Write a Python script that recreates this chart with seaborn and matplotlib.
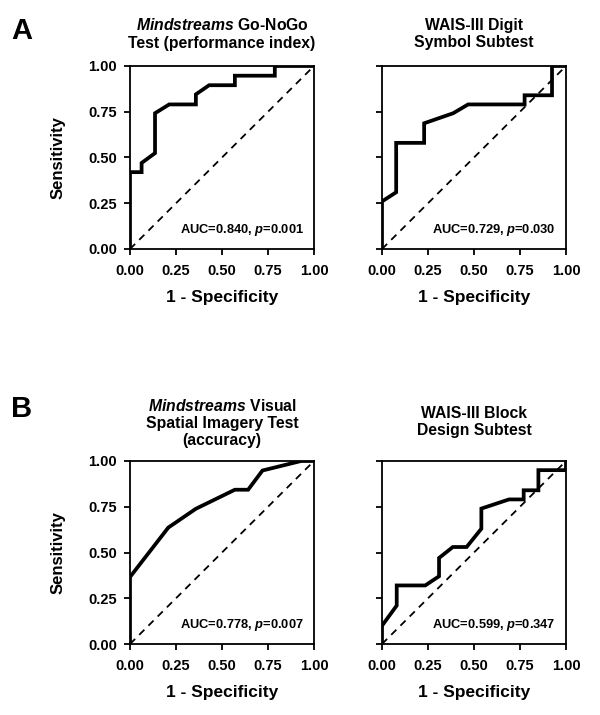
import matplotlib
matplotlib.use("Agg")
import matplotlib.pyplot as plt
import seaborn as sns
import pandas as pd

sns.set_style("white")
plt.rcParams['font.family'] = ['Liberation Sans', 'DejaVu Sans']
plt.rcParams['font.weight'] = 'bold'
plt.rcParams['text.color'] = 'black'
plt.rcParams['axes.labelcolor'] = 'black'
plt.rcParams['xtick.color'] = 'black'
plt.rcParams['ytick.color'] = 'black'
plt.rcParams['mathtext.fontset'] = 'custom'
plt.rcParams['mathtext.it'] = 'Liberation Sans:italic:bold'
plt.rcParams['mathtext.rm'] = 'Liberation Sans:bold'

# Panel A left: Mindstreams Go-NoGo
gonogo_fpr = [0.0, 0.0, 0.063, 0.063, 0.136, 0.136, 0.213, 0.358, 0.358, 0.43, 0.57, 0.57, 0.787, 0.787, 1.0]
gonogo_tpr = [0.0, 0.42, 0.42, 0.47, 0.524, 0.742, 0.79, 0.79, 0.845, 0.895, 0.895, 0.947, 0.947, 1.0, 1.0]
# Panel A right: WAIS-III Digit Symbol
digit_fpr = [0.0, 0.0, 0.077, 0.077, 0.229, 0.229, 0.387, 0.468, 0.775, 0.775, 0.924, 0.924, 1.0]
digit_tpr = [0.0, 0.26, 0.31, 0.58, 0.58, 0.687, 0.742, 0.79, 0.79, 0.84, 0.84, 1.0, 1.0]
# Panel B left: Mindstreams Visual Spatial Imagery
visual_fpr = [0.0, 0.0, 0.208, 0.358, 0.57, 0.642, 0.72, 0.93, 1.0]
visual_tpr = [0.0, 0.366, 0.636, 0.739, 0.843, 0.843, 0.948, 1.0, 1.0]
# Panel B right: WAIS-III Block Design
block_fpr = [0.0, 0.0, 0.08, 0.08, 0.235, 0.31, 0.31, 0.385, 0.46, 0.54, 0.54, 0.69, 0.77, 0.77, 0.85, 0.85, 1.0, 1.0]
block_tpr = [0.0, 0.1, 0.21, 0.32, 0.32, 0.37, 0.47, 0.53, 0.53, 0.63, 0.74, 0.79, 0.79, 0.84, 0.84, 0.95, 0.95, 1.0]

titles = [
    r"$Mindstreams$ Go-NoGo" + "\nTest (performance index)",
    "WAIS-III Digit\nSymbol Subtest",
    r"$Mindstreams$ Visual" + "\nSpatial Imagery Test\n(accuracy)",
    "WAIS-III Block\nDesign Subtest",
]
auc_texts = [
    r"AUC=0.840, $p$=0.001",
    r"AUC=0.729, $p$=0.030",
    r"AUC=0.778, $p$=0.007",
    r"AUC=0.599, $p$=0.347",
]
curves = [(gonogo_fpr, gonogo_tpr), (digit_fpr, digit_tpr),
          (visual_fpr, visual_tpr), (block_fpr, block_tpr)]
ticks = [0.0, 0.25, 0.5, 0.75, 1.0]
tick_labels = ["0.00", "0.25", "0.50", "0.75", "1.00"]

fig = plt.figure(figsize=(6.0, 7.15), dpi=100)
W, H = 600, 715
ax_w, ax_h = 184, 183
lefts = [130, 382]
tops = [66, 461]

for i, (fpr, tpr) in enumerate(curves):
    r, c = divmod(i, 2)
    l = lefts[c]; t = tops[r]
    ax = fig.add_axes([l / W, (H - t - ax_h) / H, ax_w / W, ax_h / H])
    df = pd.DataFrame({"fpr": fpr, "tpr": tpr})
    sns.lineplot(data=df, x="fpr", y="tpr", sort=False, estimator=None,
                 color="black", linewidth=2.7, ax=ax, solid_joinstyle='miter', zorder=3)
    sns.lineplot(x=[0, 1], y=[0, 1], color="black", linewidth=1.3,
                 linestyle=(0, (4, 3.2)), ax=ax, zorder=2)
    ax.set_xlim(0, 1)
    ax.set_ylim(0, 1)
    ax.set_xticks(ticks)
    ax.set_yticks(ticks)
    ax.set_xticklabels(tick_labels, fontsize=10.5, fontweight='bold')
    if c == 0:
        ax.set_yticklabels(tick_labels, fontsize=10.5, fontweight='bold')
        ax.set_ylabel("Sensitivity", fontsize=12, fontweight='bold', labelpad=16)
    else:
        ax.set_yticklabels([])
        ax.set_ylabel("")
    ax.set_xlabel("1 - Specificity", fontsize=12.5, fontweight='bold', labelpad=9)
    ax.tick_params(direction='out', length=4.5, width=1.3, colors='black', pad=6,
                   bottom=True, left=True)
    ax.tick_params(axis='y', pad=5)
    for s in ax.spines.values():
        s.set_linewidth(1.3)
        s.set_color('black')
    ax.text(0.945, 0.105, auc_texts[i], transform=ax.transAxes, ha='right',
            va='center', fontsize=9.3, fontweight='bold')

# titles placed in figure pixel coordinates
title_pos = [(222, 34), (474, 34), (222, 423), (474, 422)]
for i, (x, y) in enumerate(title_pos):
    fig.text(x / W, 1 - y / H, titles[i], ha='center', va='center',
             fontsize=11.3, fontweight='bold', linespacing=1.2)

fig.text(11 / W, 1 - 31 / H, "A", fontsize=21, fontweight='bold', ha='left', va='center')
fig.text(11 / W, 1 - 409 / H, "B", fontsize=21, fontweight='bold', ha='left', va='center')

fig.savefig("out.png", dpi=100)
